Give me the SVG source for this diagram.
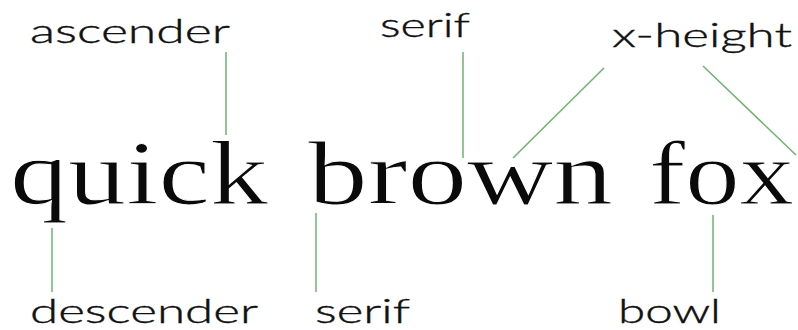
<svg xmlns="http://www.w3.org/2000/svg" width="798" height="330" viewBox="0 0 798 330">
<style>
.word{font-family:"Liberation Serif","Times New Roman",serif;font-size:90px;fill:#0a0a0a;stroke:#fff;stroke-width:1}
.lab{font-family:Lato,"Open Sans",sans-serif;font-size:34px;font-weight:300;fill:#111;stroke:#111;stroke-width:0.4}
.ln{stroke:#6bb56b;stroke-width:1.5;fill:none}
</style>
<rect width="798" height="330" fill="#fff"/>
<g id="sample">
<text class="word" x="10" y="204" textLength="258" lengthAdjust="spacingAndGlyphs">quick</text>
<text class="word" x="308" y="204" textLength="305" lengthAdjust="spacingAndGlyphs">brown</text>
<text class="word" x="649" y="204" textLength="145" lengthAdjust="spacingAndGlyphs">fox</text>
</g>
<g id="ascender"><text class="lab" x="30" y="43" textLength="200" lengthAdjust="spacingAndGlyphs">ascender</text></g>
<g id="serif-top"><text class="lab" x="380" y="37" textLength="90" lengthAdjust="spacingAndGlyphs">serif</text></g>
<g id="x-height"><text class="lab" x="612" y="47" textLength="180" lengthAdjust="spacingAndGlyphs">x-height</text></g>
<g id="descender"><text class="lab" x="30" y="323" textLength="228" lengthAdjust="spacingAndGlyphs">descender</text></g>
<g id="serif-bottom"><text class="lab" x="315" y="323" textLength="95" lengthAdjust="spacingAndGlyphs">serif</text></g>
<g id="bowl"><text class="lab" x="618" y="323" textLength="103" lengthAdjust="spacingAndGlyphs">bowl</text></g>
<g id="connectors">
<line class="ln" x1="226" y1="52" x2="226" y2="135"/>
<line class="ln" x1="463" y1="52" x2="463" y2="158"/>
<line class="ln" x1="604" y1="68" x2="513" y2="158"/>
<line class="ln" x1="703" y1="66" x2="796" y2="155"/>
<line class="ln" x1="52" y1="228" x2="52" y2="292"/>
<line class="ln" x1="316" y1="213" x2="316" y2="292"/>
<line class="ln" x1="713" y1="215" x2="713" y2="292"/>
</g>
</svg>
